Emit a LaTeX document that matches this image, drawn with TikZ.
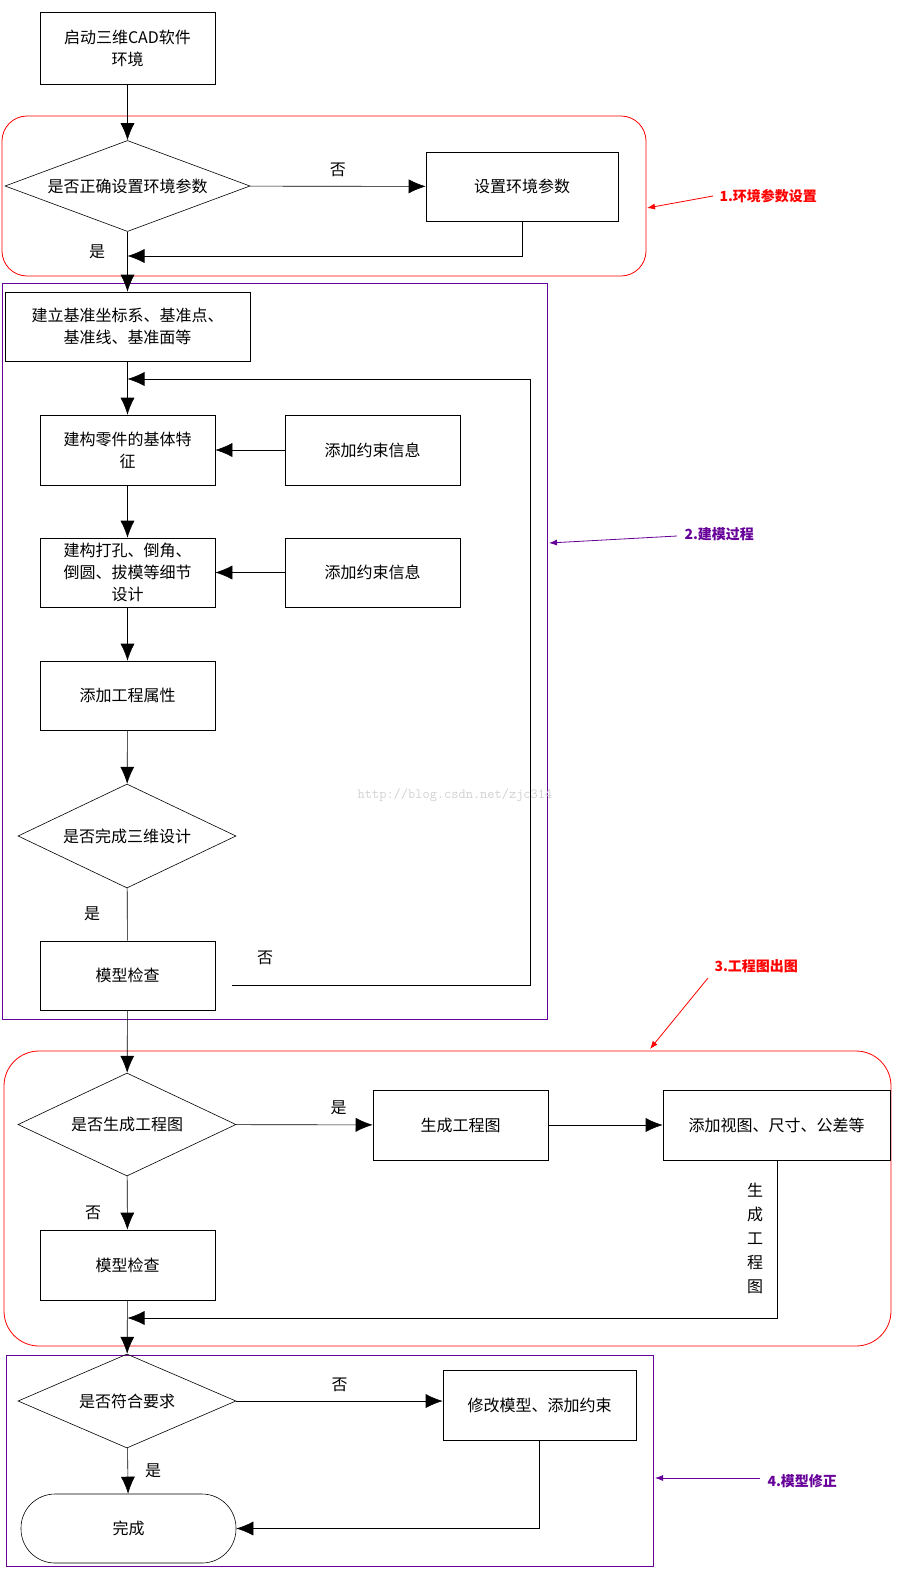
\documentclass[tikz,border=0pt]{standalone}
\usepackage{fontspec}
\setmainfont{Noto Sans CJK SC}
\usetikzlibrary{arrows.meta,shapes.geometric}
\begin{document}
\begin{tikzpicture}[x=1pt,y=-1pt,
  box/.style={draw,semithick,align=center,inner sep=0pt,font=\fontsize{16}{22}\selectfont},
  dia/.style={draw,semithick,diamond,aspect=2.1,inner sep=0pt,font=\fontsize{16}{22}\selectfont},
  lbl/.style={font=\fontsize{16}{20}\selectfont},
  arr/.style={semithick,-{Latex[length=17pt,width=14pt]}},
  ln/.style={semithick},
  ann/.style={font=\bfseries\fontsize{14}{17}\selectfont}]
\useasboundingbox (0,0) rectangle (907,1593);
\fill[white] (0,0) rectangle (907,1593);
% groups
\draw[red,thick,rounded corners=25pt] (2,116) rectangle (646,276);
\draw[violet!80!blue,thick] (2,283) rectangle (547,1019);
\draw[red,thick,rounded corners=35pt] (4,1051) rectangle (891,1346);
\draw[violet!80!blue,thick] (6,1355) rectangle (653,1566);
% nodes
\node[box,minimum width=175pt,minimum height=72pt] (s) at (127.5,48) {启动三维CAD软件\\环境};
\node[dia,minimum width=245pt,minimum height=88pt] (d1) at (127.5,186) {是否正确设置环境参数};
\node[box,minimum width=192pt,minimum height=69pt] (env) at (522,186.5) {设置环境参数};
\node[box,minimum width=245pt,minimum height=69pt] (b2) at (127.5,326.5) {建立基准坐标系、基准点、\\基准线、基准面等};
\node[box,minimum width=175pt,minimum height=70pt] (b3) at (127.5,450) {建构零件的基体特\\征};
\node[box,minimum width=175pt,minimum height=70pt] (c1) at (372.5,450) {添加约束信息};
\node[box,minimum width=175pt,minimum height=69pt] (b4) at (127.5,572.5) {建构打孔、倒角、\\倒圆、拔模等细节\\设计};
\node[box,minimum width=175pt,minimum height=69pt] (c2) at (372.5,572.5) {添加约束信息};
\node[box,minimum width=175pt,minimum height=69pt] (b5) at (127.5,695.5) {添加工程属性};
\node[dia,minimum width=218pt,minimum height=104pt] (d2) at (127,836) {是否完成三维设计};
\node[box,minimum width=175pt,minimum height=69pt] (b6) at (127.5,975.5) {模型检查};
\node[dia,minimum width=218pt,minimum height=103pt] (d3) at (127,1124.5) {是否生成工程图};
\node[box,minimum width=175pt,minimum height=70pt] (g1) at (460.5,1125) {生成工程图};
\node[box,minimum width=227pt,minimum height=70pt] (g2) at (776.5,1125) {添加视图、尺寸、公差等};
\node[box,minimum width=175pt,minimum height=70pt] (b7) at (127.5,1265) {模型检查};
\node[dia,minimum width=218pt,minimum height=94pt] (d4) at (127,1401) {是否符合要求};
\node[box,minimum width=193pt,minimum height=70pt] (m) at (539.5,1405) {修改模型、添加约束};
\node[box,rounded corners=34pt,minimum width=215pt,minimum height=69pt] (fin) at (128.5,1528.5) {完成};
% connectors
\draw[arr] (s) -- (d1);
\draw[arr] (d1) -- (env) node[lbl,midway,above=6pt] {否};
\coordinate (j1) at (127.5,256);
\draw[arr] (env.south) |- (j1);
\draw[arr] (d1) -- (b2);
\node[lbl] at (97,252) {是};
\draw[arr] (b2) -- (b3);
\draw[arr] (c1) -- (b3);
\draw[arr] (b3) -- (b4);
\draw[arr] (c2) -- (b4);
\draw[arr] (b4) -- (b5);
\draw[arr] (b5) -- (d2);
\draw[ln] (d2) -- (b6);
\node[lbl] at (92,914) {是};
\coordinate (lp) at (232,985);
\coordinate (lt) at (127.5,379);
\draw[arr] (lp) -- (530,985) |- (lt);
\node[lbl] at (265,958) {否};
\draw[arr] (b6) -- (d3);
\draw[arr] (d3) -- (g1) node[lbl,pos=0.75,above=6pt] {是};
\draw[arr] (g1) -- (g2);
\draw[arr] (d3) -- (b7);
\node[lbl] at (93,1213) {否};
\coordinate (j2) at (127.5,1318);
\draw[arr] (777,1160) |- (j2);
\node[lbl,align=center,font=\fontsize{16}{24}\selectfont] at (755,1238) {生\\成\\工\\程\\图};
\draw[arr] (b7) -- (d4);
\draw[arr] (d4) -- (m.west|-d4) node[lbl,midway,above=6pt] {否};
\draw[arr] (d4) -- (fin);
\node[lbl] at (153,1471) {是};
\draw[arr] (m.south) |- (fin.east);
% annotations
\node[ann,red,anchor=west] at (716,196) {1.环境参数设置};
\draw[red,thick,-{Latex[length=8pt,width=6pt]}] (713,196) -- (647,208);
\node[ann,violet!80!blue,anchor=west] at (681,534) {2.建模过程};
\draw[violet!80!blue,thick,-{Latex[length=8pt,width=6pt]}] (677,536) -- (549,543);
\node[ann,red,anchor=west] at (711,966) {3.工程图出图};
\draw[red,thick,-{Latex[length=8pt,width=6pt]}] (708,978) -- (650,1049);
\node[ann,violet!80!blue,anchor=west] at (764,1481) {4.模型修正};
\draw[violet!80!blue,thick,-{Latex[length=8pt,width=6pt]}] (760,1478) -- (655,1478);
\node[gray!35,font=\ttfamily\fontsize{14}{16}\selectfont] at (455,795) {http://blog.csdn.net/zjc314};
\end{tikzpicture}
\end{document}
